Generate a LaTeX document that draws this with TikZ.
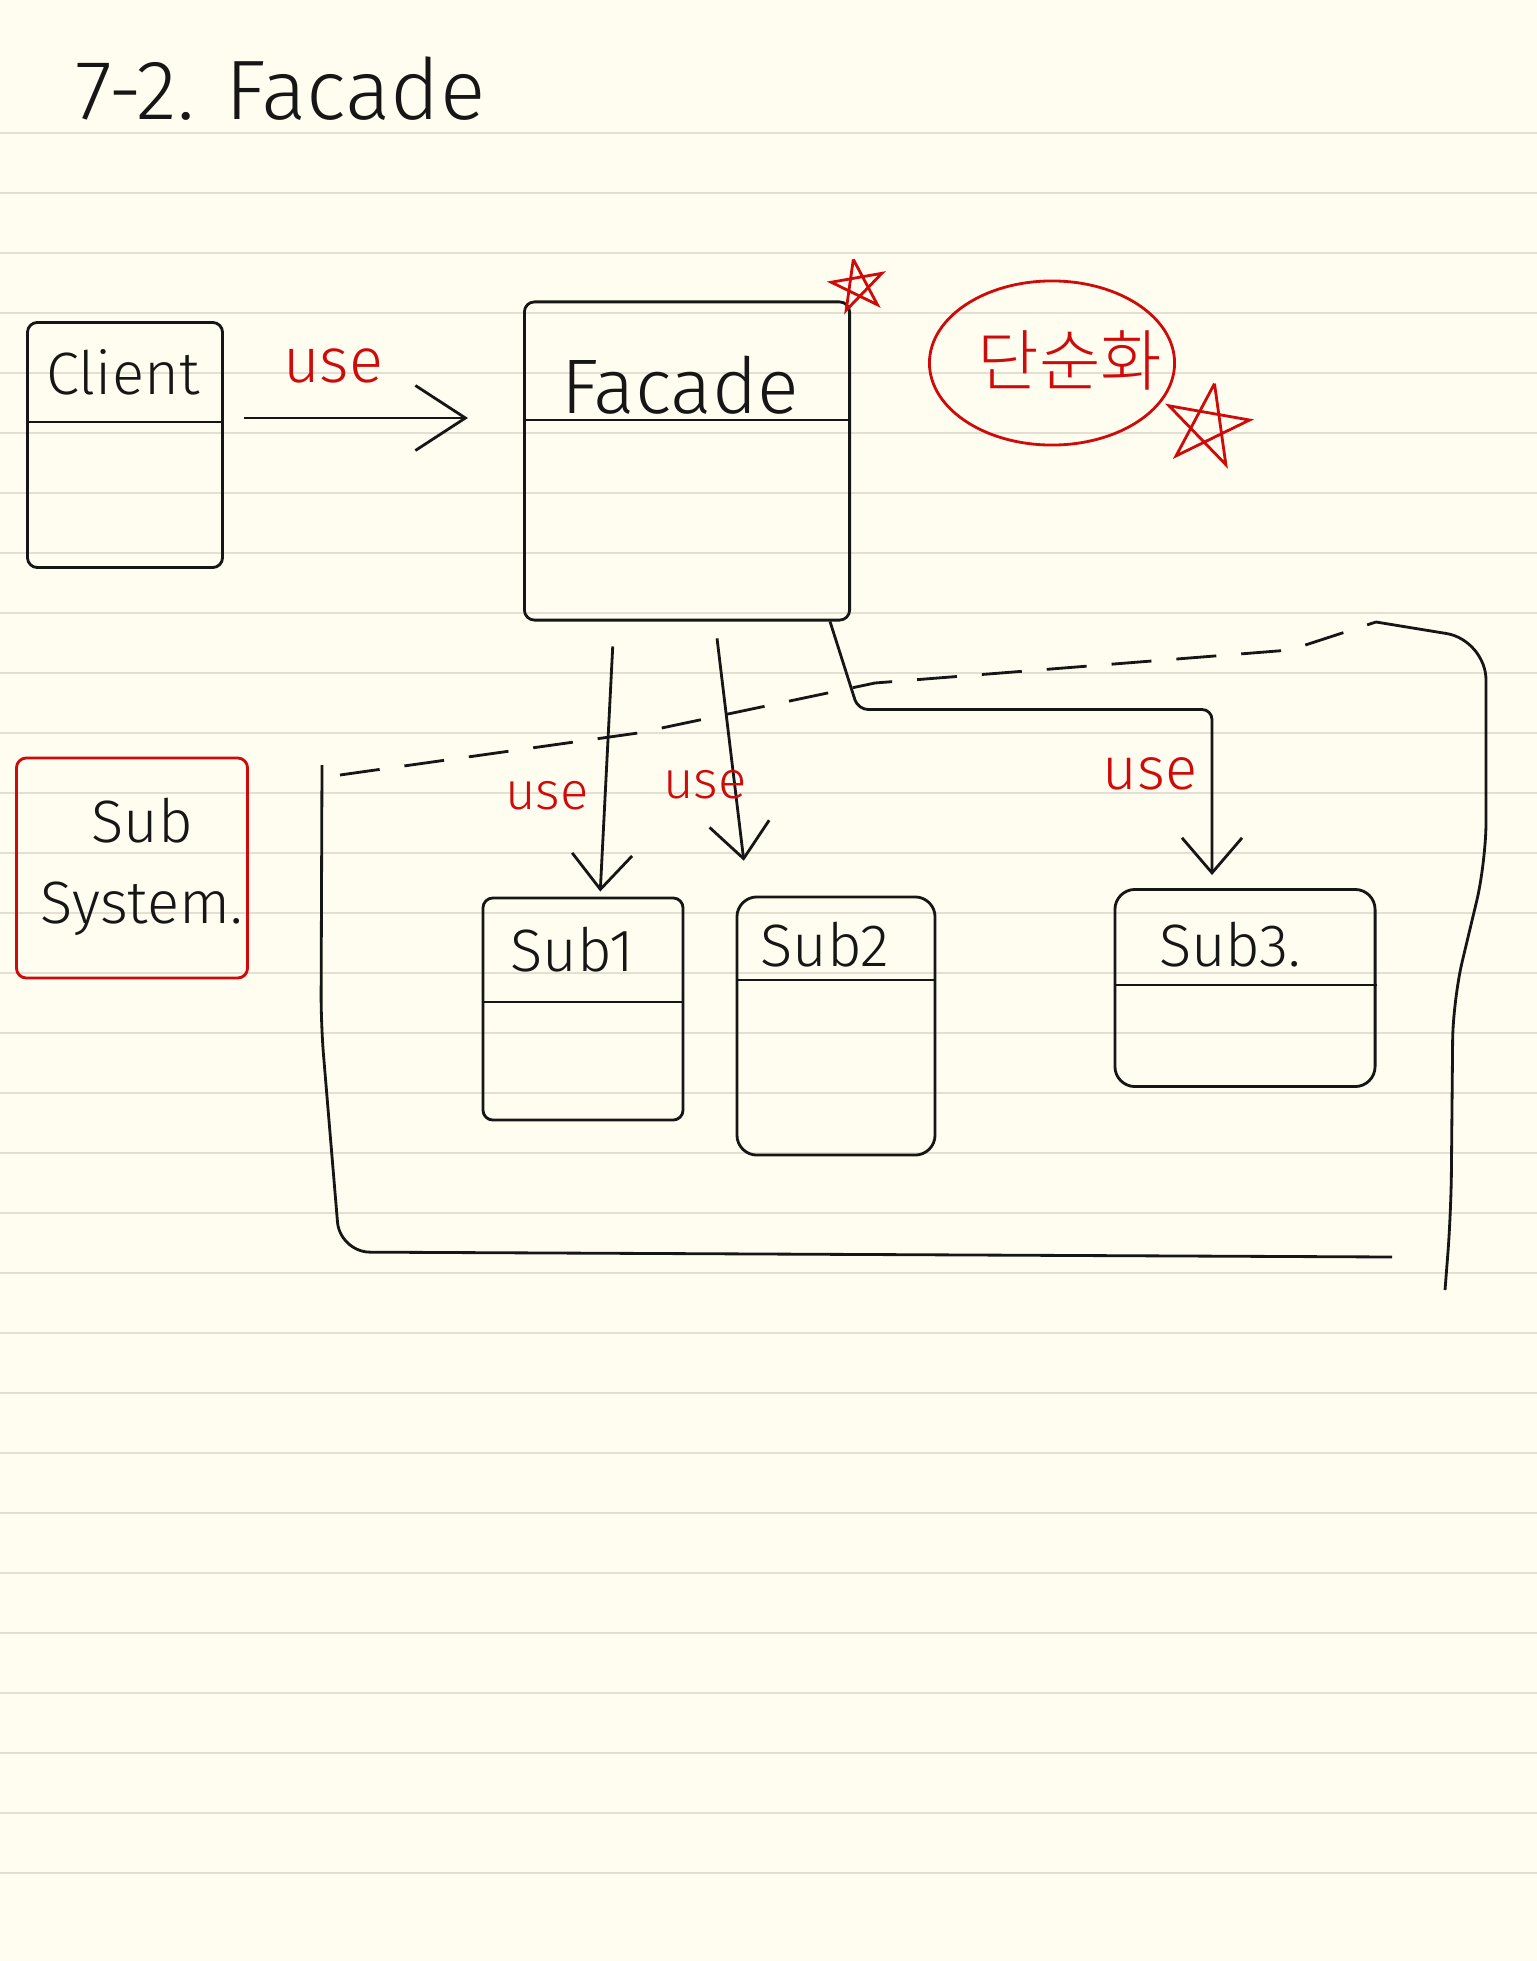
\documentclass[tikz,border=0pt]{standalone}
\usepackage{fontspec}
\usepackage{tikz}
\usetikzlibrary{shapes,arrows.meta,positioning}
\IfFontExistsTF{Fira Sans Light}
        {\setmainfont{Fira Sans Light}}
        {\setmainfont{Fira Sans}}
\IfFontExistsTF{Noto Sans CJK KR Light}
        {\newfontfamily\hangul{Noto Sans CJK KR Light}}
        {\newfontfamily\hangul{Noto Sans CJK KR}}
\definecolor{paper}{RGB}{254,253,239}
\definecolor{ruling}{RGB}{227,224,211}
\definecolor{pen}{RGB}{22,22,22}
\definecolor{redpen}{RGB}{206,10,10}
\tikzstyle{classbox} =
        [
                rectangle,
                draw = pen,
                line width = 0.8pt,
                % fill = white,
                rounded corners = 1mm,
                inner sep = 0pt
        ]
\tikzstyle{handtext} =
        [
                text = pen,
                font = \fontsize{17}{19}\selectfont,
                inner sep = 0pt
        ]
\tikzstyle{uselabel} =
        [
                text = redpen,
                font = \fontsize{17}{19}\selectfont,
                inner sep = 0pt
        ]
\tikzstyle{useline} =
        [
                line width = 0.8pt,
                draw = pen,
                -{Straight Barb[length=3.5mm, width=6mm]}
        ]
\tikzstyle{divider} =
        [
                line width = 0.8pt,
                draw = pen
        ]
\begin{document}
\begin{tikzpicture}[x = 0.01cm, y = -0.01cm]
    \useasboundingbox (0,0) rectangle (1537,1961);
    \fill [paper] (0,0) rectangle (1537,1961);
    \foreach \k in {0,...,29}
        \draw [ruling, line width = 0.6pt] (0,133+60*\k) -- (1537,133+60*\k);

    \node [handtext, anchor = base west, font = \fontsize{24}{26}\selectfont] (title) at (75,120) {7-2. Facade};

    \node [classbox, minimum width = 1.95cm, minimum height = 2.45cm] (client) at (125,445) {};
    \node [handtext] (client-name) at (123,372) {Client};
    \path [divider] (client.west |- 0,422) -- (client.east |- 0,422);

    \node [classbox, minimum width = 3.25cm, minimum height = 3.18cm] (facade) at (687,461) {};
    \node [handtext, font = \fontsize{22}{24}\selectfont] (facade-name) at (680,385) {Facade};
    \path [divider] (facade.west |- 0,420) -- (facade.east |- 0,420);

    \node [ellipse, draw = redpen, line width = 0.8pt, minimum width = 2.45cm, minimum height = 1.64cm] (simplify) at (1052,363) {};
    \node [uselabel, font = \hangul\fontsize{19}{21}\selectfont] (simplify-text) at (1070,360) {단순화};
    \coordinate (star-facade) at (858,286);
    \coordinate (star-note) at (1207,426);
    \draw [redpen, line width = 0.8pt] ([shift={(100:0.27cm)}]star-facade) \foreach \k in {1,...,5} { -- ([shift={(100+144*\k:0.27cm)}]star-facade) };
    \draw [redpen, line width = 0.8pt] ([shift={(80:0.43cm)}]star-note) \foreach \k in {1,...,5} { -- ([shift={(80+144*\k:0.43cm)}]star-note) };

    \node [classbox, draw = redpen, minimum width = 2.31cm, minimum height = 2.2cm] (legend) at (132,868) {};
    \node [handtext, align = center, font = \fontsize{17}{23}\selectfont] (legend-text) at (142,867) {Sub\\System.};

    \node [classbox, minimum width = 2.0cm, minimum height = 2.22cm] (sub1) at (583,1009) {};
    \node [handtext] (sub1-name) at (572,950) {Sub1};
    \path [divider] (sub1.west |- 0,1002) -- (sub1.east |- 0,1002);

    \node [classbox, rounded corners = 2mm, minimum width = 1.98cm, minimum height = 2.58cm] (sub2) at (836,1026) {};
    \node [handtext] (sub2-name) at (825,945) {Sub2};
    \path [divider] (sub2.west |- 0,980) -- (sub2.east |- 0,980);

    \node [classbox, rounded corners = 2mm, minimum width = 2.6cm, minimum height = 1.97cm] (sub3) at (1245,988) {};
    \node [handtext] (sub3-name) at (1230,945) {Sub3.};
    \path [divider] (sub3.west |- 0,985) -- (sub3.east |- 0,985);

    \draw [pen, line width = 0.8pt, rounded corners = 3mm] (322,765) -- (321,1025) -- (340,1252) -- (1392,1257);
    \draw [pen, line width = 0.8pt, dash pattern = on 4mm off 2.5mm] (340,775) -- (638,733) -- (875,683) -- (1290,650) -- (1376,622);
    \draw [pen, line width = 0.8pt, rounded corners = 4mm] (1376,622) -- (1486,640) -- (1486,862) -- (1453,1000) -- (1451,1213) -- (1445,1290);

     \path [useline, -{Straight Barb[length=5mm, width=6.5mm]}, shorten <= 2mm, shorten >= 5.5mm] (client.east |- 0,418) -- (facade.west |- 0,418);
     \path [useline, shorten <= 2.5mm, shorten >= 0.5mm] (facade.south -| 614,0) -- (sub1.north -| 600,0);
     \path [useline, shorten <= 1.7mm, shorten >= 3.5mm] (facade.south -| 715,0) -- (sub2.north -| 748,0);
     \path [useline, rounded corners = 1mm, shorten >= 1.3mm] (facade.south -| 830,0) -- ++(28,88) -| (sub3.north -| 1212,0);

    \node [uselabel, font = \fontsize{18}{20}\selectfont] (use-facade) at (333,366) {use};
    \node [uselabel, font = \fontsize{15}{17}\selectfont] (use-sub1) at (547,796) {use};
    \node [uselabel, font = \fontsize{15}{17}\selectfont] (use-sub2) at (705,785) {use};
    \node [uselabel] (use-sub3) at (1150,774) {use};
\end{tikzpicture}
\end{document}
